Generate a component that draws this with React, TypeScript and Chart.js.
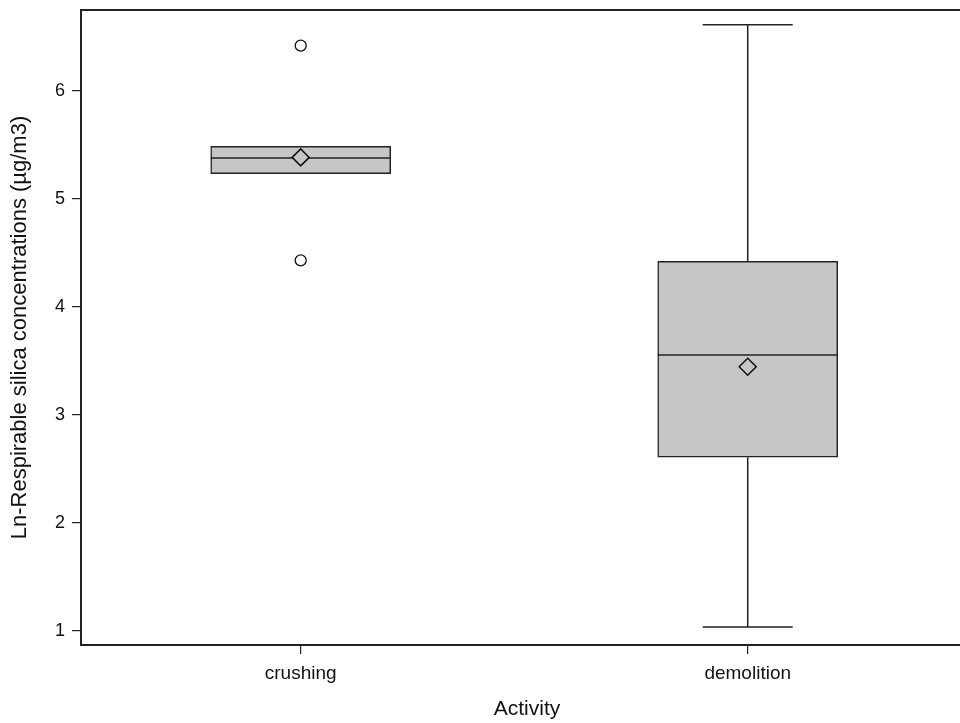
import React, { useEffect, useRef } from "react";
import { Chart, registerables } from "chart.js";

Chart.register(...registerables);

const categories = ["crushing", "demolition"];
const xPositions = [1, 2];
const q1 = [5.234, 2.609];
const median = [5.378, 3.554];
const q3 = [5.486, 4.422];
const whiskerLow = [5.234, 1.037];
const whiskerHigh = [5.486, 6.612];
const means = [5.384, 3.446];
const outliers: number[][] = [[6.418, 4.431], []];
const yTicks = [1, 2, 3, 4, 5, 6];

const FONT = "'Liberation Sans', Arial, sans-serif";
const LINE = "#222";
const FILL = "#c6c6c6";

export default function App() {
  const ref = useRef<HTMLCanvasElement | null>(null);

  useEffect(() => {
    if (!ref.current) return;

    const boxPlugin = {
      id: "boxExtras",
      afterDatasetDraw(chart: any, args: any) {
        if (args.index !== 0) return;
        const ctx = chart.ctx;
        const xs = chart.scales.x;
        const ys = chart.scales.y;
        const meta = chart.getDatasetMeta(0);
        ctx.save();
        ctx.strokeStyle = LINE;
        ctx.lineWidth = 1.5;
        categories.forEach((_, i) => {
          const x = xs.getPixelForValue(xPositions[i]);
          const bar = meta.data[i];
          const half = bar ? bar.width / 2 : 90;
          const cap = half / 2;
          if (whiskerHigh[i] > q3[i]) {
            const yh = ys.getPixelForValue(whiskerHigh[i]);
            ctx.beginPath();
            ctx.moveTo(x, ys.getPixelForValue(q3[i]));
            ctx.lineTo(x, yh);
            ctx.moveTo(x - cap, yh);
            ctx.lineTo(x + cap, yh);
            ctx.stroke();
          }
          if (whiskerLow[i] < q1[i]) {
            const yl = ys.getPixelForValue(whiskerLow[i]);
            ctx.beginPath();
            ctx.moveTo(x, ys.getPixelForValue(q1[i]));
            ctx.lineTo(x, yl);
            ctx.moveTo(x - cap, yl);
            ctx.lineTo(x + cap, yl);
            ctx.stroke();
          }
          const ym = ys.getPixelForValue(median[i]);
          ctx.beginPath();
          ctx.moveTo(x - half, ym);
          ctx.lineTo(x + half, ym);
          ctx.stroke();
        });
        ctx.restore();
      },
      afterDraw(chart: any) {
        const { ctx, chartArea } = chart;
        ctx.save();
        ctx.strokeStyle = LINE;
        ctx.lineWidth = 2;
        ctx.beginPath();
        ctx.moveTo(chartArea.left - 1, chartArea.top);
        ctx.lineTo(chartArea.right, chartArea.top);
        ctx.stroke();
        ctx.restore();
      },
    };

    const outlierPoints: { x: number; y: number }[] = [];
    outliers.forEach((arr, i) => arr.forEach((v) => outlierPoints.push({ x: xPositions[i], y: v })));

    const chart = new Chart(ref.current, {
      type: "bar",
      data: {
        datasets: [
          {
            type: "bar",
            data: categories.map((_, i) => ({ x: xPositions[i], y: [q1[i], q3[i]] })) as any,
            backgroundColor: FILL,
            borderColor: LINE,
            borderWidth: 1.5,
            borderSkipped: false,
            barThickness: 180,
            grouped: false,
            order: 3,
          } as any,
          {
            type: "line",
            data: categories.map((_, i) => ({ x: xPositions[i], y: means[i] })),
            showLine: false,
            pointStyle: "rectRot",
            pointRadius: 8.5,
            pointBackgroundColor: FILL,
            pointBorderColor: "#111",
            pointBorderWidth: 1.5,
            order: 1,
          } as any,
          {
            type: "line",
            data: outlierPoints,
            showLine: false,
            pointStyle: "circle",
            pointRadius: 5.5,
            pointBackgroundColor: "#fff",
            pointBorderColor: "#111",
            pointBorderWidth: 1.3,
            order: 2,
          } as any,
        ],
      },
      options: {
        animation: false,
        responsive: false,
        maintainAspectRatio: false,
        layout: { padding: { top: 7, right: 0, left: 0, bottom: 0 } },
        plugins: { legend: { display: false }, tooltip: { enabled: false } },
        scales: {
          x: {
            type: "linear",
            offset: false,
            min: 0.5085,
            max: 2.504,
            afterBuildTicks: (scale: any) => {
              scale.ticks = xPositions.map((v) => ({ value: v }));
            },
            afterFit: (scale: any) => {
              scale.height = 78;
              scale.paddingLeft = 0;
              scale.paddingRight = 0;
            },
            ticks: {
              callback: (v: any) => {
                const idx = xPositions.indexOf(Number(v));
                return idx >= 0 ? categories[idx] : "";
              },
              font: { family: FONT, size: 19 },
              color: "#111",
              padding: 8,
              maxRotation: 0,
              autoSkip: false,
            },
            grid: { display: true, offset: false, drawOnChartArea: false, drawTicks: true, tickLength: 9, color: LINE, lineWidth: 1.2 },
            border: { display: true, color: LINE, width: 2 },
            title: {
              display: true,
              text: "Activity",
              font: { family: FONT, size: 21 },
              color: "#111",
              padding: { top: 0, bottom: 1 },
            },
          },
          y: {
            type: "linear",
            min: 0.871,
            max: 6.748,
            afterBuildTicks: (scale: any) => {
              scale.ticks = yTicks.map((v) => ({ value: v }));
            },
            afterFit: (scale: any) => {
              scale.width = 81;
              scale.paddingTop = 0;
              scale.paddingBottom = 0;
            },
            ticks: {
              font: { family: FONT, size: 18 },
              color: "#111",
              padding: 7,
            },
            grid: { display: true, drawOnChartArea: false, drawTicks: true, tickLength: 9, color: LINE, lineWidth: 1.2 },
            border: { display: true, color: LINE, width: 2 },
            title: {
              display: true,
              text: "Ln-Respirable silica concentrations (µg/m3)",
              font: { family: FONT, size: 22 },
              color: "#111",
              padding: { top: 7, bottom: 0 },
            },
          },
        },
      },
      plugins: [boxPlugin],
    });

    return () => chart.destroy();
  }, []);

  return (
    <div style={{ position: "fixed", left: 0, top: 0, width: 960, height: 723, background: "#fff", overflow: "hidden" }}>
      <canvas ref={ref} width={983} height={723} style={{ display: "block" }} />
    </div>
  );
}
